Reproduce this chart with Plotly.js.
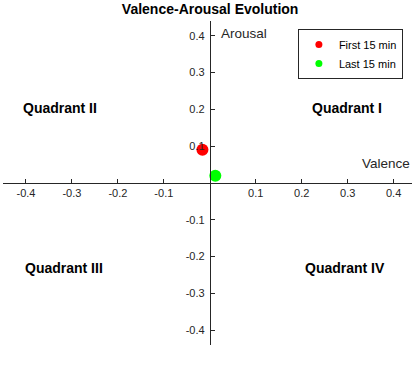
<!DOCTYPE html>
<html>
<head>
<meta charset="utf-8">
<script src="https://cdn.plot.ly/plotly-3.0.1.min.js"></script>
<style>
  html, body { margin: 0; padding: 0; background: #fff; }
  #chart { width: 412px; height: 377px; }
</style>
</head>
<body>
<div id="chart"></div>
<script>
// data
var periods = ['First 15 min', 'Last 15 min'];
var valence = [-0.016, 0.012];
var arousal = [0.09, 0.02];
var colors = ['#ff0000', '#00ff00'];

var tickVals = [-0.4, -0.3, -0.2, -0.1, 0.1, 0.2, 0.3, 0.4];
var tickText = ['-0.4', '-0.3', '-0.2', '-0.1', '0.1', '0.2', '0.3', '0.4'];

var quadrantNames = ['Quadrant I', 'Quadrant II', 'Quadrant III', 'Quadrant IV'];
var quadrantX = [0.298, -0.326, -0.318, 0.294];
var quadrantY = [0.204, 0.204, -0.231, -0.231];

var xRange = [-0.45, 0.44];
var yRange = [-0.44, 0.44];

var fontFam = 'Liberation Sans, Arial, sans-serif';

// points on the plot (no legend), plus small legend-only markers
var traces = [];
periods.forEach(function (name, i) {
    traces.push({
        x: [valence[i]],
        y: [arousal[i]],
        name: name,
        type: 'scatter',
        mode: 'markers',
        showlegend: false,
        marker: { color: colors[i], size: 12 }
    });
});
periods.forEach(function (name, i) {
    traces.push({
        x: [null],
        y: [null],
        name: name,
        type: 'scatter',
        mode: 'markers',
        marker: { color: colors[i], size: 7 }
    });
});

var tickFont = { family: fontFam, size: 11, color: '#262626' };

var annotations = quadrantNames.map(function (q, i) {
    return {
        x: quadrantX[i], y: quadrantY[i], xref: 'x', yref: 'y',
        text: '<b>' + q + '</b>', showarrow: false,
        font: { family: fontFam, size: 14, color: '#000' }
    };
});
annotations.push({
    x: 0.02, y: 0.405, xref: 'x', yref: 'y', xanchor: 'left',
    text: 'Arousal', showarrow: false,
    font: { family: fontFam, size: 13.5, color: '#262626' }
});
annotations.push({
    x: 0.44, y: 0.052, xref: 'x', yref: 'y', xanchor: 'right',
    text: 'Valence', showarrow: false,
    font: { family: fontFam, size: 13.5, color: '#262626' }
});

var layout = {
    width: 412,
    height: 377,
    margin: { l: 3, r: 0, t: 21, b: 32 },
    paper_bgcolor: '#fff',
    plot_bgcolor: '#fff',
    title: {
        text: '<b>Valence-Arousal Evolution</b>',
        x: 0.51, xref: 'container',
        y: 0.976, yref: 'container', yanchor: 'middle',
        font: { family: fontFam, size: 14, color: '#000' }
    },
    xaxis: {
        range: xRange,
        anchor: 'free',
        position: (0 - yRange[0]) / (yRange[1] - yRange[0]),
        showgrid: false,
        zeroline: false,
        showline: true,
        linecolor: '#262626',
        linewidth: 1,
        ticks: 'inside',
        ticklen: 4,
        tickcolor: '#262626',
        tickmode: 'array',
        tickvals: tickVals,
        ticktext: tickText,
        tickfont: tickFont
    },
    yaxis: {
        range: yRange,
        anchor: 'free',
        position: (0 - xRange[0]) / (xRange[1] - xRange[0]),
        showgrid: false,
        zeroline: false,
        showline: true,
        linecolor: '#262626',
        linewidth: 1,
        ticks: 'inside',
        ticklen: 4,
        tickcolor: '#262626',
        tickmode: 'array',
        tickvals: tickVals,
        ticktext: tickText,
        tickfont: tickFont,
        ticklabelstandoff: 3
    },
    showlegend: true,
    legend: {
        x: 0.721, y: 0.975, xanchor: 'left', yanchor: 'top',
        bgcolor: '#fff',
        bordercolor: '#262626',
        borderwidth: 1,
        tracegroupgap: 0,
        font: { family: fontFam, size: 11, color: '#000' }
    },
    annotations: annotations
};

Plotly.newPlot('chart', traces, layout, { displayModeBar: false });
</script>
</body>
</html>
